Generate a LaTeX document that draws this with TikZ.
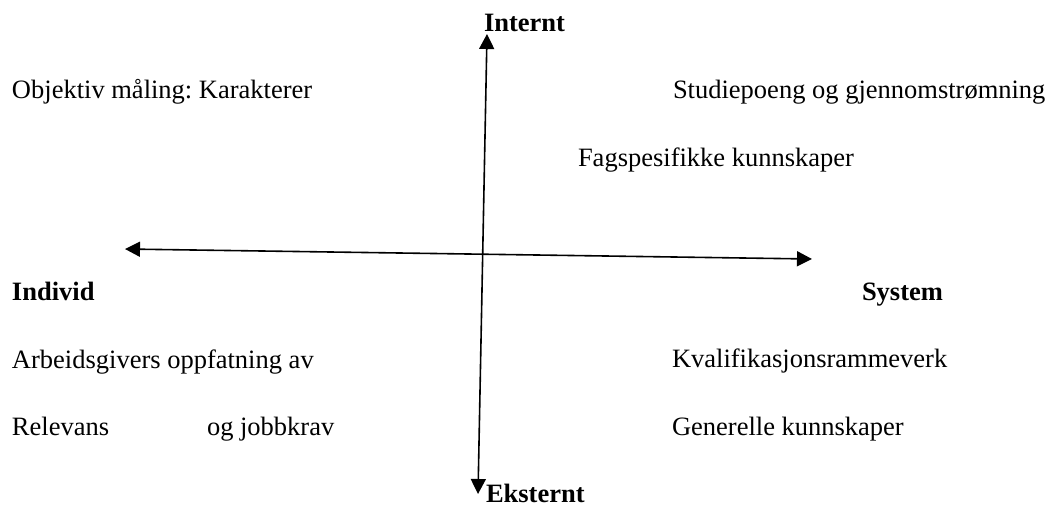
\documentclass[tikz,border=0pt]{standalone}
\usepackage{fontspec}
\setmainfont{Liberation Serif}
\usetikzlibrary{arrows.meta}
\frenchspacing
\begin{document}
\begin{tikzpicture}[x=1pt,y=-1pt,
  lbl/.style={anchor=base west,inner sep=0pt,outer sep=0pt,font=\fontsize{26.5}{30}\selectfont},
  hd/.style={lbl,font=\fontsize{26.5}{30}\selectfont\bfseries},
  axis/.style={line width=1.6pt,{Triangle[length=15pt,width=15pt]}-{Triangle[length=15pt,width=15pt]}}]
\useasboundingbox (0,0) rectangle (1051,507);
% axis end points
\coordinate (top) at (487,34);
\coordinate (bottom) at (478,494);
\coordinate (left) at (125,249);
\coordinate (right) at (812,259);
\draw[axis] (bottom) -- (top);
\draw[axis] (left) -- (right);
% headings
\node[hd] (internt) at (484,31) {Internt};
\node[hd] (eksternt) at (486,502) {Eksternt};
\node[hd] (individ) at (12,300) {Individ};
\node[hd] (system) at (862,300) {System};
% labels
\node[lbl] (objektiv) at (12,98) {Objektiv måling: Karakterer};
\node[lbl] (studiepoeng) at (673,98) {Studiepoeng og gjennomstrømning};
\node[lbl] (fagspes) at (578,166) {Fagspesifikke kunnskaper};
\node[lbl] (arbeids) at (12,368) {Arbeidsgivers oppfatning av};
\node[lbl] (relevans) at (12,435) {Relevans};
\node[lbl] (jobbkrav) at (207,435) {og jobbkrav};
\node[lbl] (kvalif) at (672,367) {Kvalifikasjonsrammeverk};
\node[lbl] (generelle) at (672,435) {Generelle kunnskaper};
\end{tikzpicture}
\end{document}
